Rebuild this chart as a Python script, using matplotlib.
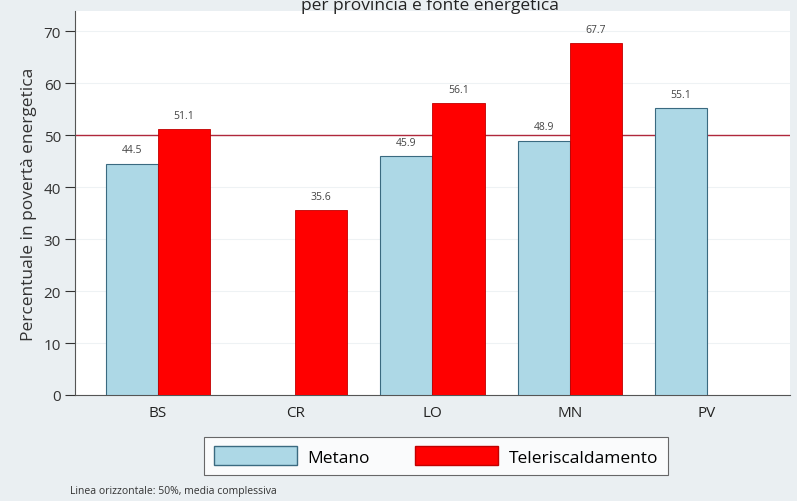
import matplotlib
matplotlib.use("Agg")
import matplotlib.pyplot as plt
import numpy as np
from matplotlib.patches import Patch

categories = ["BS", "CR", "LO", "MN", "PV"]
metano = [44.5, np.nan, 45.9, 48.9, 55.1]
teleriscaldamento = [51.1, 35.6, 56.1, 67.7, np.nan]
yticks = [0, 10, 20, 30, 40, 50, 60, 70]
ref_line = 50

plt.rcParams['font.family'] = ['Open Sans', 'DejaVu Sans']

bg = '#eaeff2'
fig = plt.figure(figsize=(7.97, 5.02), dpi=100, facecolor=bg)
ax = fig.add_axes([75/797, 1-396/502, (790-75)/797, (396-12)/502])
ax.set_facecolor('white')

x = np.arange(len(categories))
w = 0.38
c_met = '#add8e6'
c_tel = '#ff0000'
edge = '#3a6a80'
ax.bar(x - w/2, metano, width=w, color=c_met, edgecolor=edge, linewidth=0.8, zorder=3)
ax.bar(x + w/2, teleriscaldamento, width=w, color=c_tel, edgecolor='#c00000', linewidth=0.6, zorder=3)

for xs, vals in [(x - w/2, metano), (x + w/2, teleriscaldamento)]:
    for xi, v in zip(xs, vals):
        if not np.isnan(v):
            ax.text(xi, v + 1.6, f"{v:.1f}", ha='center', va='bottom', fontsize=7.5, color='#444444', zorder=4)

ax.axhline(ref_line, color='#b0283c', linewidth=1.0, zorder=2)

ax.set_xlim(-0.605, len(categories) - 1 + 0.605)
ax.set_ylim(0, 73.85)
ax.set_yticks(yticks)
ax.set_xticks(x)
ax.set_xticklabels(categories, fontsize=11, color='#222222')
ax.tick_params(axis='y', labelsize=11, colors='#333333', length=7, width=0.8, pad=3)
ax.tick_params(axis='x', length=0, pad=7)
ax.grid(axis='y', color='#eef2f4', linewidth=0.8, zorder=0)
for s in ['top', 'right']:
    ax.spines[s].set_visible(False)
ax.spines['left'].set_color('#555555')
ax.spines['bottom'].set_color('#555555')
ax.set_ylabel("Percentuale in povertà energetica", fontsize=12.5, color='#333333', labelpad=5)

handles = [Patch(facecolor=c_met, edgecolor=edge, label="Metano"),
           Patch(facecolor=c_tel, edgecolor='#c00000', label="Teleriscaldamento")]
leg = fig.legend(handles=handles, loc='center', bbox_to_anchor=(436/797, 1-457/502), ncol=2,
                 fontsize=12.5, frameon=True, fancybox=False, edgecolor='#444444',
                 handlelength=4.8, handleheight=1.3, handletextpad=0.6,
                 columnspacing=2.6, borderpad=0.55)
leg.get_frame().set_linewidth(0.8)

fig.text(70/797, 1-492/502, "Linea orizzontale: 50%, media complessiva", fontsize=7.5,
         color='#333333', ha='left', va='center')
fig.text(430/797, 1+3/502, "Percentuale in povertà energetica\nper provincia e fonte energetica",
         fontsize=12.5, color='#222222', ha='center', va='center')

fig.savefig("out.png", dpi=100, facecolor=bg)
